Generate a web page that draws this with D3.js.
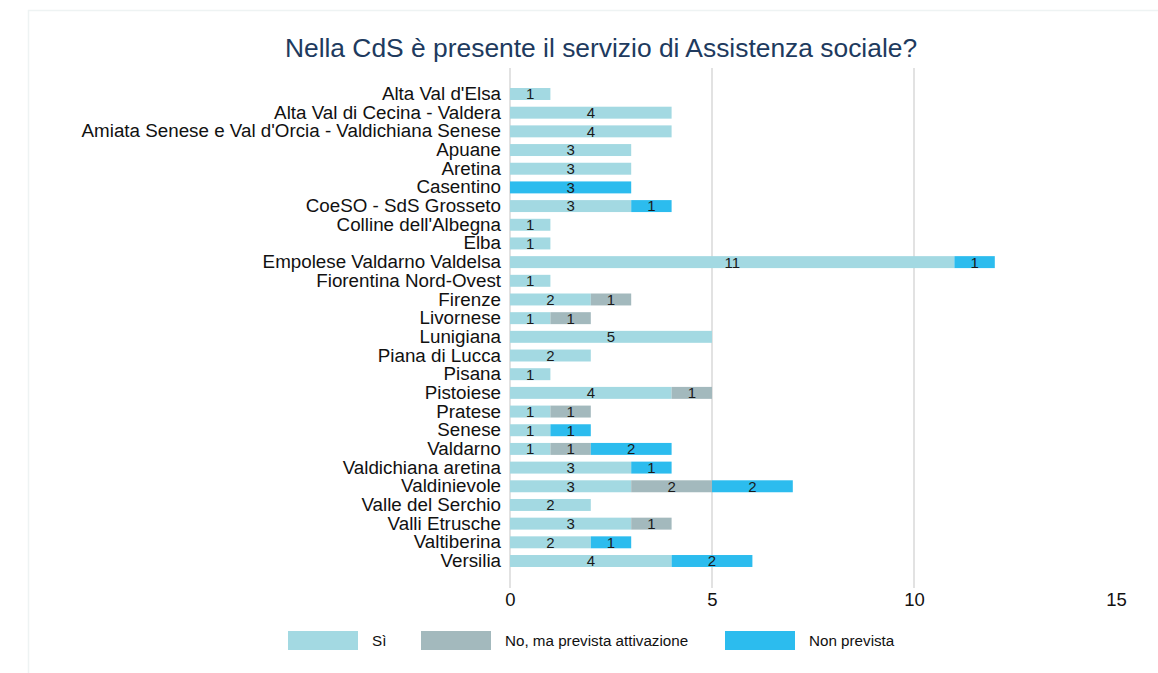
<!DOCTYPE html>
<html>
<head>
<meta charset="utf-8">
<script src="https://cdn.jsdelivr.net/npm/d3@7"></script>
<style>
  body { margin: 0; background: #fff; font-family: "Liberation Sans", Arial, sans-serif; }
  svg text { font-family: "Liberation Sans", Arial, sans-serif; }
</style>
</head>
<body>
<div id="chart-area"></div>
<script>
// categories (CdS) and values per risposta
const categories = [
  "Alta Val d'Elsa", "Alta Val di Cecina - Valdera", "Amiata Senese e Val d'Orcia - Valdichiana Senese",
  "Apuane", "Aretina", "Casentino", "CoeSO - SdS Grosseto", "Colline dell'Albegna", "Elba",
  "Empolese Valdarno Valdelsa", "Fiorentina Nord-Ovest", "Firenze", "Livornese", "Lunigiana",
  "Piana di Lucca", "Pisana", "Pistoiese", "Pratese", "Senese", "Valdarno", "Valdichiana aretina",
  "Valdinievole", "Valle del Serchio", "Valli Etrusche", "Valtiberina", "Versilia"
]
const si =          [1, 4, 4, 3, 3, 0, 3, 1, 1, 11, 1, 2, 1, 5, 2, 1, 4, 1, 1, 1, 3, 3, 2, 3, 2, 4]
const noPrevista =  [0, 0, 0, 0, 0, 0, 0, 0, 0, 0, 0, 1, 1, 0, 0, 0, 1, 1, 0, 1, 0, 2, 0, 1, 0, 0]
const nonPrevista = [0, 0, 0, 0, 0, 3, 1, 0, 0, 1, 0, 0, 0, 0, 0, 0, 0, 0, 1, 2, 1, 2, 0, 0, 1, 2]
const seriesNames = ["Sì", "No, ma prevista attivazione", "Non prevista"]
const xTicks = [0, 5, 10, 15]

const colors = ["#a3d9e2", "#a3b9bd", "#2cbcee"]
const title = "Nella CdS è presente il servizio di Assistenza sociale?"

const width = 1158, height = 673

const table = categories.map((c, i) => ({
  cat: c, "Sì": si[i], "No, ma prevista attivazione": noPrevista[i], "Non prevista": nonPrevista[i]
}))
const stacked = d3.stack().keys(seriesNames)(table)

const svg = d3.select("#chart-area").append("svg")
  .attr("width", width)
  .attr("height", height)

// faint frame
svg.append("rect")
  .attr("x", 28.5).attr("y", 10.5)
  .attr("width", width).attr("height", height)
  .attr("fill", "none")
  .attr("stroke", "#eef3f3")
  .attr("stroke-width", 1.5)

svg.append("text")
  .attr("x", 601).attr("y", 57)
  .attr("text-anchor", "middle")
  .attr("font-size", 26.4)
  .attr("fill", "#203a5e")
  .text(title)

const x = d3.scaleLinear().domain([0, 15]).range([510, 1116])
const y = d3.scaleBand().domain(categories).range([81.3, 573.7]).padding(0.36)

// gridlines (none at 15)
svg.append("g").selectAll("line")
  .data(xTicks.filter(t => t < 15))
  .enter().append("line")
  .attr("x1", d => x(d)).attr("x2", d => x(d))
  .attr("y1", 68).attr("y2", 588)
  .attr("stroke", "#d9d9d9")
  .attr("stroke-width", 1.5)

// x axis labels
const xAxis = svg.append("g")
  .attr("transform", "translate(0,588)")
  .call(d3.axisBottom(x).tickValues(xTicks).tickSize(0).tickPadding(5))
xAxis.select(".domain").remove()
xAxis.selectAll("text")
  .attr("font-size", 18.5)
  .attr("fill", "#111")

// y axis labels
const yAxis = svg.append("g")
  .attr("transform", "translate(501,0)")
  .call(d3.axisLeft(y).tickSize(0).tickPadding(0))
yAxis.select(".domain").remove()
yAxis.selectAll("text")
  .attr("font-size", 18.8)
  .attr("fill", "#111")

// bars
const layers = svg.append("g").selectAll("g")
  .data(stacked)
  .enter().append("g")
  .attr("fill", (d, i) => colors[i])

layers.selectAll("rect")
  .data(d => d)
  .enter().append("rect")
  .attr("x", d => x(d[0]))
  .attr("y", d => y(d.data.cat))
  .attr("width", d => x(d[1]) - x(d[0]))
  .attr("height", y.bandwidth())

layers.selectAll("text")
  .data(d => d.filter(v => v[1] - v[0] > 0))
  .enter().append("text")
  .attr("x", d => (x(d[0]) + x(d[1])) / 2)
  .attr("y", d => y(d.data.cat) + y.bandwidth() / 2)
  .attr("dy", "0.36em")
  .attr("text-anchor", "middle")
  .attr("font-size", 15)
  .attr("fill", "#1a1a1a")
  .text(d => d[1] - d[0])

// legend
const legendX = [288, 421, 725]
const legend = svg.append("g").selectAll("g")
  .data(seriesNames)
  .enter().append("g")
  .attr("transform", (d, i) => `translate(${legendX[i]},631)`)

legend.append("rect")
  .attr("width", 70).attr("height", 19)
  .attr("fill", (d, i) => colors[i])

legend.append("text")
  .attr("x", 84).attr("y", 10)
  .attr("dy", "0.35em")
  .attr("font-size", 15.2)
  .attr("fill", "#111")
  .text(d => d)
</script>
</body>
</html>
